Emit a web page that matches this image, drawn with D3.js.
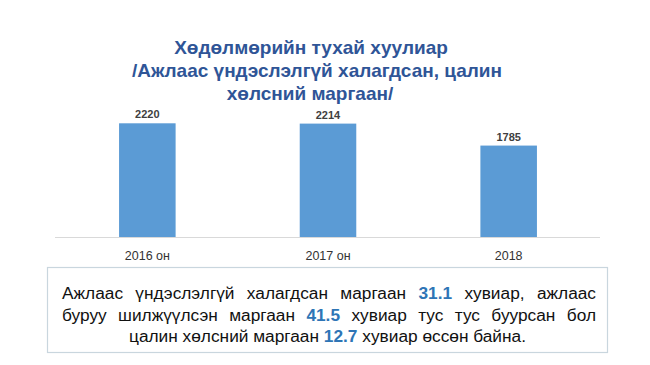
<!DOCTYPE html>
<html><head><meta charset="utf-8">
<script src="https://cdn.jsdelivr.net/npm/d3@7"></script>
<style>html,body{margin:0;padding:0;background:#fff;}svg{display:block;}</style>
</head><body>
<svg id="c" width="650" height="365"></svg>
<script>
const categories = ["2016 он", "2017 он", "2018"];
const values = [2220, 2214, 1785];
const titleLines = ["Хөдөлмөрийн тухай хуулиар", "/Ажлаас үндэслэлгүй халагдсан, цалин", "хөлсний маргаан/"];
// note text: segments [text, highlighted]
const noteLines = [
  [["Ажлаас үндэслэлгүй халагдсан маргаан ", false], ["31.1", true], [" хувиар, ажлаас", false]],
  [["буруу шилжүүлсэн маргаан ", false], ["41.5", true], [" хувиар тус тус буурсан бол", false]],
  [["цалин хөлсний маргаан ", false], ["12.7", true], [" хувиар өссөн байна.", false]]
];

const svg = d3.select("#c");
const font = "'Liberation Sans', Arial, sans-serif";

// title
const titleCx = [311, 317, 310];
svg.append("g").selectAll("text").data(titleLines).join("text")
  .attr("x", (d,i)=>titleCx[i]).attr("y", (d,i)=>53.5 + i*23)
  .attr("text-anchor","middle").attr("font-family", font)
  .attr("font-weight","bold").attr("font-size",19).attr("fill","#2f5597")
  .text(d=>d);

const x = d3.scaleBand().domain(categories).range([57, 599])
  .paddingInner(0.687).paddingOuter(0.3435);
const y = d3.scaleLinear().domain([0, 2220]).range([237, 123.3]);

svg.append("g").selectAll("rect").data(values).join("rect")
  .attr("x", (d,i)=>x(categories[i])).attr("width", x.bandwidth())
  .attr("y", d=>y(d)).attr("height", d=>y(0)-y(d))
  .attr("fill","#5b9bd5");

// axis
const ax = svg.append("g").attr("transform","translate(0,237)")
  .call(d3.axisBottom(x).tickSize(0).tickPadding(14));
ax.select(".domain").attr("stroke","#d9d9d9").attr("stroke-width",1.2).attr("d", "M55,0.5H600");
ax.selectAll("text").attr("font-family", font).attr("font-size",12.5).attr("fill","#333");

// value labels
svg.append("g").selectAll("text").data(values).join("text")
  .attr("x",(d,i)=>x(categories[i])+x.bandwidth()/2).attr("y", d=>y(d)-5)
  .attr("text-anchor","middle").attr("font-family",font).attr("font-weight","bold")
  .attr("font-size",11).attr("fill","#404040").text(d=>d);

// note box
svg.append("rect").attr("x",47.5).attr("y",267.5).attr("width",560).attr("height",85)
  .attr("fill","#fff").attr("stroke","#c9d6de").attr("stroke-width",1.2);

const left = 62, right = 596;
noteLines.forEach((segs, i) => {
  const t = svg.append("text").attr("y", 299 + i*21.5)
    .attr("font-family", font).attr("font-size",17.3).attr("fill","#111");
  segs.forEach(([s, hl]) => {
    t.append("tspan").text(s)
      .attr("font-weight", hl ? "bold" : null)
      .attr("fill", hl ? "#2e75b6" : null);
  });
  const w = t.node().getComputedTextLength();
  if (i < noteLines.length - 1) {
    const spaces = segs.map(s=>s[0]).join("").split(" ").length - 1;
    const ws = (right - left - w) / spaces;
    t.attr("word-spacing", ws).attr("x", left);
  } else {
    t.attr("text-anchor","middle").attr("x", 327.5);
  }
});
</script>
</body></html>
